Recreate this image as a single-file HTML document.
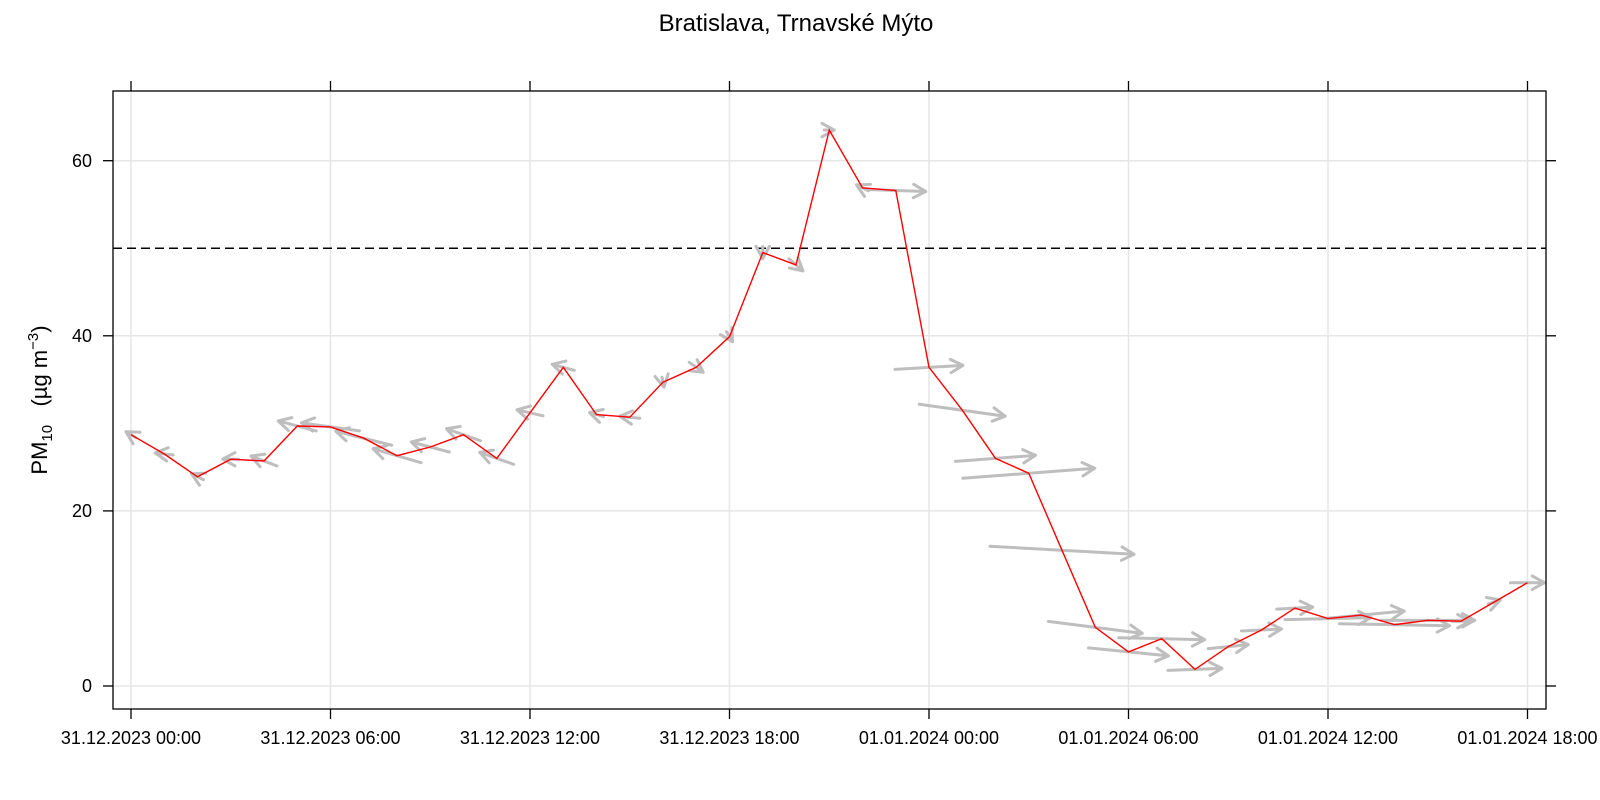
<!DOCTYPE html>
<html><head><meta charset="utf-8"><style>
html,body{margin:0;padding:0;background:#fff;}
svg{display:block;font-family:"Liberation Sans",Arial,sans-serif;}
</style></head><body>
<svg id="s" width="1600" height="800" viewBox="0 0 1600 800" xmlns="http://www.w3.org/2000/svg">
<rect width="1600" height="800" fill="#fff"/>
<text x="796" y="31" font-size="24" text-anchor="middle" fill="#000">Bratislava, Trnavské Mýto</text>
<g id="grid" stroke="#e6e6e6" stroke-width="1.5"></g>
<line x1="113" y1="248.3" x2="1546" y2="248.3" stroke="#000" stroke-width="1.5" stroke-dasharray="9,5"/>
<g id="arrows" stroke="#bebebe" stroke-width="3" fill="none" stroke-linecap="round"></g>
<polyline id="line" fill="none" stroke="#ff0000" stroke-width="1.4"/>
<rect x="113" y="91" width="1433" height="618" fill="none" stroke="#000" stroke-width="1.3"/>
<g id="ticks" stroke="#000" stroke-width="1.3"></g>
<g font-size="18" fill="#000" text-anchor="end">
<text x="92" y="692">0</text>
<text x="92" y="517">20</text>
<text x="92" y="342">40</text>
<text x="92" y="167">60</text>
</g>
<g font-size="18" fill="#000" text-anchor="middle">
<text x="131" y="744">31.12.2023 00:00</text>
<text x="330.5" y="744">31.12.2023 06:00</text>
<text x="530" y="744">31.12.2023 12:00</text>
<text x="729.5" y="744">31.12.2023 18:00</text>
<text x="929" y="744">01.01.2024 00:00</text>
<text x="1128.5" y="744">01.01.2024 06:00</text>
<text x="1328" y="744">01.01.2024 12:00</text>
<text x="1527.5" y="744">01.01.2024 18:00</text>
</g>
<text transform="translate(47,400) rotate(-90)" font-size="22" text-anchor="middle" fill="#000">PM<tspan font-size="15" dy="5">10</tspan><tspan dy="-5" xml:space="preserve">   (µg m</tspan><tspan font-size="15" dy="-9">−3</tspan><tspan dy="9">)</tspan></text>
</svg>
<script>
var X=function(h){return 131+33.25*h;},Y=function(v){return 686-8.755*v;};
var vals=[28.7,26.5,23.9,25.9,25.7,29.7,29.6,28.3,26.3,27.3,28.7,26.0,31.2,36.4,31.0,30.7,34.7,36.4,39.9,49.5,48.1,63.5,56.9,56.6,36.4,31.5,26.0,24.3,15.5,6.7,3.9,5.4,1.9,4.5,6.4,8.9,7.7,8.1,7.0,7.5,7.4,9.6,11.8];
var half=[[-5,-3],[-9,-1],[-6,-3],[-8,0],[-13,-5],[-19,-5],[-29,-4],[-28,-7],[-24,-7],[-19,-5],[-17,-6],[-17,-6],[-13,-3],[-11,-3],[-7,-2],[-10,-1],[1,5],[7,5],[3,5],[0,6],[7,6],[5,0],[-6,-3],[30,1],[34,-2],[43,6],[40,-3],[66,-5],[72,4],[47,6],[40,4],[43,1],[27,-1],[20,-2],[20,-1],[18,-1],[43,-1],[43,-4],[55,1],[47,0],[9,0],[6,-2],[17,0]];
var ns="http://www.w3.org/2000/svg",pts=[],a=document.getElementById('arrows');
for(var i=0;i<vals.length;i++){
 var cx=X(i),cy=Y(vals[i]);pts.push(cx.toFixed(1)+','+cy.toFixed(1));
 var dx=half[i][0],dy=half[i][1],hx=cx+dx,hy=cy+dy,tx=cx-dx,ty=cy-dy;
 var ang=Math.atan2(dy,dx),L=14,d='M'+tx+','+ty+'L'+hx+','+hy;
 for(var s of [-0.5,0.5]){d+='M'+hx+','+hy+'L'+(hx-L*Math.cos(ang+s))+','+(hy-L*Math.sin(ang+s));}
 var p=document.createElementNS(ns,'path');p.setAttribute('d',d);a.appendChild(p);
}
document.getElementById('line').setAttribute('points',pts.join(' '));
var g=document.getElementById('grid'),t=document.getElementById('ticks');
function ln(par,x1,y1,x2,y2){var l=document.createElementNS(ns,'line');l.setAttribute('x1',x1);l.setAttribute('y1',y1);l.setAttribute('x2',x2);l.setAttribute('y2',y2);par.appendChild(l);}
for(var h=0;h<=42;h+=6){var x=X(h);ln(g,x,91,x,709);ln(t,x,81,x,91);ln(t,x,709,x,719);}
for(var v=0;v<=60;v+=20){var y=Y(v);ln(g,113,y,1546,y);ln(t,103,y,113,y);ln(t,1546,y,1556,y);}
</script>
</body></html>
